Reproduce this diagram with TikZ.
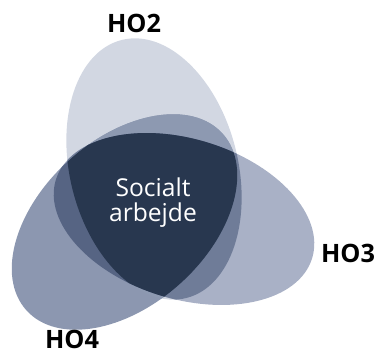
\documentclass[tikz,border=0pt]{standalone}
\usepackage{fontspec}
\setmainfont{Open Sans}

\definecolor{hoTwo}{HTML}{D2D7E2}
\definecolor{hoThree}{HTML}{A9B1C6}
\definecolor{hoFour}{HTML}{8C97B0}
\definecolor{hoTwoThree}{HTML}{6F7C98}
\definecolor{hoTwoFour}{HTML}{8D99B1}
\definecolor{hoThreeFour}{HTML}{566483}
\definecolor{hoAll}{HTML}{28374F}

\begin{document}
\begin{tikzpicture}[x=0.025cm, y=0.025cm,
	lbl/.style={font=\bfseries\fontsize{18}{18}\selectfont, inner sep=0.5pt},
	mid/.style={white, align=center, font=\fontsize{17.5}{17.7}\selectfont}]
	\useasboundingbox (0,0) rectangle (376,353);

	\def\HOtwo{(154,184) ellipse [x radius=133, y radius=84, rotate=104]}
	\def\HOthree{(184,134) ellipse [x radius=134, y radius=80, rotate=-17]}
	\def\HOfour{(124.5,131) ellipse [x radius=132, y radius=83, rotate=42]}

	\fill[hoTwo] \HOtwo;
	\fill[hoThree] \HOthree;
	\fill[hoFour] \HOfour;
	\begin{scope} \clip \HOtwo; \fill[hoTwoThree] \HOthree; \end{scope}
	\begin{scope} \clip \HOtwo; \fill[hoTwoFour] \HOfour; \end{scope}
	\begin{scope} \clip \HOthree; \fill[hoThreeFour] \HOfour; \end{scope}
	\begin{scope} \clip \HOtwo; \clip \HOthree; \fill[hoAll] \HOfour; \end{scope}

	\node [mid] (SA) at (153,150) {Socialt\\arbejde};
	\node [lbl] (HO2) at (134,329.5) {HO2};
	\node [lbl] (HO3) at (348,100) {HO3};
	\node [lbl] (HO4) at (72,14) {HO4};
\end{tikzpicture}
\end{document}
